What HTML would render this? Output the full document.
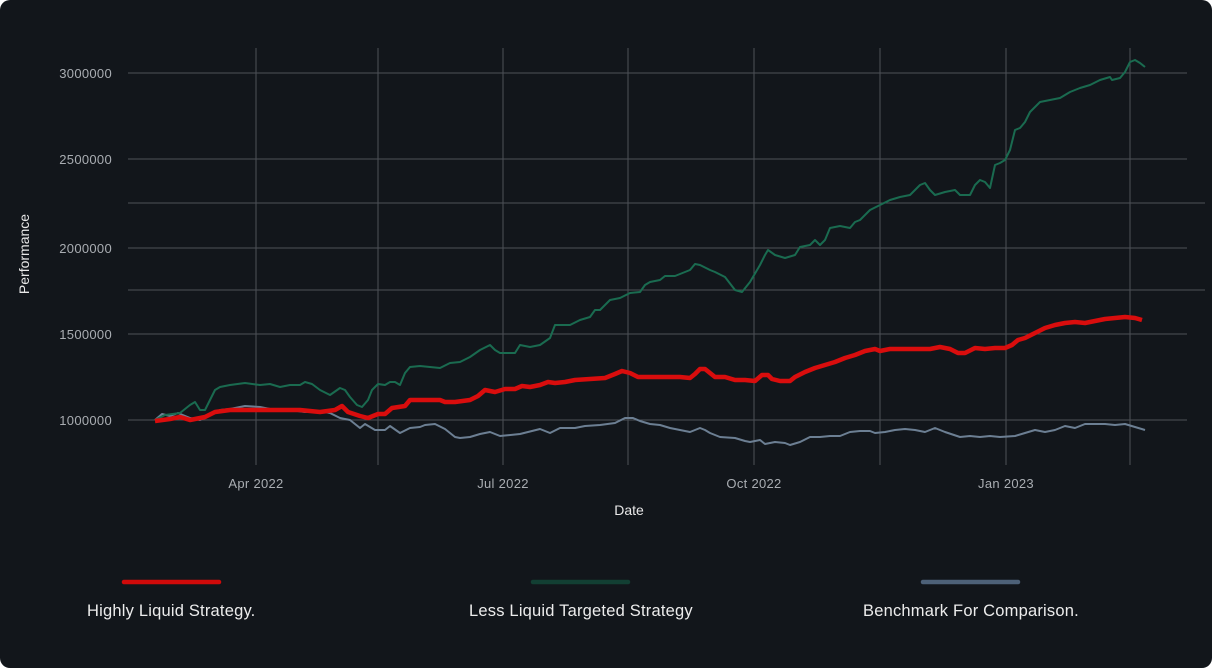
<!DOCTYPE html>
<html><head><meta charset="utf-8"><style>
html,body{margin:0;padding:0;background:#fff;}
.card{position:absolute;left:0;top:0;width:1212px;height:668px;background:#12161b;border-radius:10px;overflow:hidden;font-family:"Liberation Sans",sans-serif;}
svg{position:absolute;left:0;top:0}
</style></head><body><div class="card">
<svg width="1212" height="668" viewBox="0 0 1212 668">
<g stroke="#4d5157" stroke-width="1">
<line x1="128" y1="73" x2="1187" y2="73"/>
<line x1="128" y1="159" x2="1187" y2="159"/>
<line x1="128" y1="203" x2="1205" y2="203"/>
<line x1="128" y1="248" x2="1187" y2="248"/>
<line x1="128" y1="290" x2="1205" y2="290"/>
<line x1="128" y1="334" x2="1187" y2="334"/>
<line x1="128" y1="420" x2="1187" y2="420"/>
<line x1="256" y1="48" x2="256" y2="465"/>
<line x1="378" y1="48" x2="378" y2="465"/>
<line x1="503" y1="48" x2="503" y2="465"/>
<line x1="628" y1="48" x2="628" y2="465"/>
<line x1="754" y1="48" x2="754" y2="465"/>
<line x1="880" y1="48" x2="880" y2="465"/>
<line x1="1006" y1="48" x2="1006" y2="465"/>
<line x1="1130" y1="48" x2="1130" y2="465"/>
</g>
<g font-size="13" fill="#a9adb2" text-anchor="end" letter-spacing="0.3">
<text x="112" y="78">3000000</text>
<text x="112" y="164">2500000</text>
<text x="112" y="253">2000000</text>
<text x="112" y="339">1500000</text>
<text x="112" y="425">1000000</text>
</g>
<g font-size="13" fill="#a9adb2" text-anchor="middle" letter-spacing="0.3">
<text x="256" y="488">Apr 2022</text>
<text x="503" y="488">Jul 2022</text>
<text x="754" y="488">Oct 2022</text>
<text x="1006" y="488">Jan 2023</text>
</g>
<text x="629" y="515" font-size="14" fill="#e8e8e8" text-anchor="middle">Date</text>
<text transform="translate(29,254) rotate(-90)" font-size="14" fill="#e8e8e8" text-anchor="middle">Performance</text>
<polyline fill="none" stroke="#6c7f93" stroke-width="2" stroke-linejoin="round" points="155,420 162,414 170,416 178,413 190,418 200,420 210,415 220,410 230,409 245,406 260,407 270,409 290,410 305,412 320,411 330,413 340,418 350,420 360,428 365,424 375,430 385,430 390,426 400,433 410,428 420,427 425,425 435,424 445,429 455,437 460,438 470,437 480,434 490,432 500,436 520,434 540,429 550,433 560,428 575,428 585,426 600,425 615,423 625,418 633,418 640,421 650,424 660,425 670,428 680,430 690,432 700,428 705,430 710,433 720,437 735,438 745,441 750,442 760,440 765,444 775,442 785,443 790,445 800,442 810,437 820,437 830,436 840,436 850,432 860,431 870,431 875,433 885,432 895,430 905,429 915,430 925,432 935,428 945,432 960,437 970,436 980,437 990,436 1000,437 1015,436 1025,433 1035,430 1045,432 1055,430 1065,426 1075,428 1085,424 1095,424 1105,424 1115,425 1125,424 1135,427 1145,430"/>
<polyline fill="none" stroke="#1a6b50" stroke-width="2" stroke-linejoin="round" points="155,420 165,415 180,413 190,405 195,402 200,410 205,410 210,400 215,390 220,387 230,385 245,383 260,385 270,384 280,387 290,385 300,385 305,382 312,384 320,390 330,395 340,388 345,390 350,397 357,405 362,407 368,400 372,390 378,384 385,385 390,382 395,382 400,385 405,373 410,367 420,366 430,367 440,368 450,363 460,362 470,357 480,350 490,345 495,350 500,353 515,353 520,345 530,347 540,345 550,338 555,325 560,325 570,325 580,320 590,317 595,310 600,310 605,305 610,300 620,298 630,293 640,292 645,285 650,282 660,280 665,276 675,276 690,270 695,264 700,265 710,270 715,272 725,277 735,290 742,292 750,282 760,265 765,255 768,250 775,255 785,258 795,255 800,247 810,245 815,240 820,245 825,240 830,228 840,226 850,228 855,222 860,220 870,210 880,205 890,200 900,197 910,195 920,185 925,183 930,190 935,195 945,192 955,190 960,195 970,195 975,185 980,180 985,182 990,188 995,165 1000,163 1005,160 1010,150 1015,130 1020,128 1025,122 1030,112 1040,102 1050,100 1060,98 1070,92 1080,88 1090,85 1100,80 1110,77 1112,80 1120,78 1125,72 1130,62 1135,60 1140,63 1145,67"/>
<polyline fill="none" stroke="#d90d0d" stroke-width="4.5" stroke-linejoin="round" points="155,421 170,419 180,417 190,420 205,417 215,412 230,410 300,410 320,412 335,410 342,406 348,412 360,416 368,418 378,414 385,414 392,408 405,406 410,400 430,400 440,400 445,402 455,402 470,400 478,396 485,390 495,392 505,389 515,389 522,386 530,387 540,385 548,382 555,383 565,382 575,380 590,379 605,378 615,374 622,371 630,373 638,377 660,377 680,377 690,378 695,374 700,369 705,369 710,373 715,377 725,377 735,380 745,380 755,381 762,375 768,375 772,379 780,381 790,381 795,377 805,372 815,368 825,365 835,362 845,358 855,355 865,351 875,349 880,351 890,349 900,349 930,349 940,347 950,349 958,353 965,353 975,348 985,349 995,348 1005,348 1012,345 1018,340 1025,338 1035,333 1045,328 1055,325 1065,323 1075,322 1085,323 1095,321 1105,319 1115,318 1125,317 1135,318 1142,320"/>
<g stroke-width="4.5" stroke-linecap="round">
<line x1="124" y1="582" x2="219" y2="582" stroke="#d00a0a"/>
<line x1="533" y1="582" x2="628" y2="582" stroke="#123f33"/>
<line x1="923" y1="582" x2="1018" y2="582" stroke="#4d6178"/>
</g>
<g font-size="16.5" fill="#ececec" letter-spacing="0.2">
<text x="87" y="616">Highly Liquid Strategy.</text>
<text x="469" y="616">Less Liquid Targeted Strategy</text>
<text x="863" y="616">Benchmark For Comparison.</text>
</g>
</svg>
</div></body></html>
